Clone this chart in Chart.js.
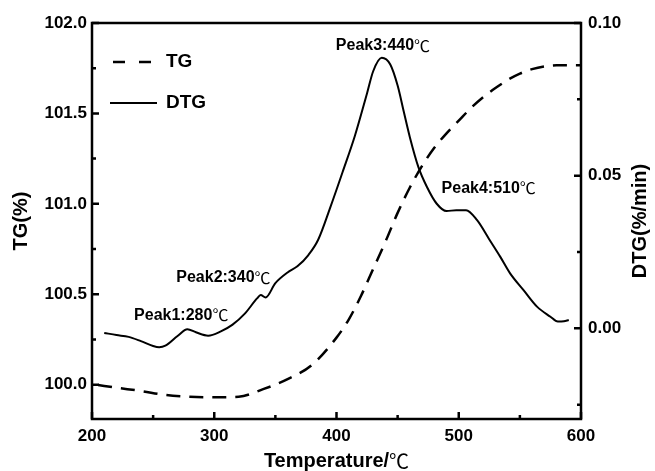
<!DOCTYPE html>
<html>
<head>
<meta charset="utf-8">
<script src="https://cdn.jsdelivr.net/npm/chart.js@4.4.0/dist/chart.umd.min.js"></script>
<style>
  html, body { margin: 0; padding: 0; background: #fff; }
</style>
</head>
<body>
<canvas id="c" width="655" height="471"></canvas>
<script>
// TG curve (left axis, %)
const tgTemp = [205, 220, 240, 260, 280, 300, 320, 340, 360, 380, 400, 410, 420, 430, 440, 450, 460, 470, 480, 490, 500, 510, 520, 530, 540, 550, 560, 570, 580, 590, 600];
const tgValues = [99.998, 99.983, 99.965, 99.943, 99.933, 99.930, 99.933, 99.975, 100.03, 100.11, 100.26, 100.36, 100.49, 100.64, 100.79, 100.95, 101.09, 101.21, 101.31, 101.39, 101.46, 101.53, 101.59, 101.64, 101.685, 101.72, 101.745, 101.76, 101.766, 101.766, 101.766];

// DTG curve (right axis, %/min)
const dtgTemp = [210, 220, 230, 240, 250, 255, 260, 270, 278, 285, 295, 305, 315, 325, 335, 338, 342, 350, 360, 368, 377, 385, 395, 405, 415, 425, 430, 437, 444, 450, 455, 460, 467, 474, 482, 490, 498, 506, 515, 525, 534, 542, 553, 564, 575, 581, 586, 590];
const dtgValues = [-0.0015, -0.0022, -0.0028, -0.0042, -0.0058, -0.0062, -0.0057, -0.0025, -0.0003, -0.0013, -0.0024, -0.0011, 0.0012, 0.0048, 0.0098, 0.0109, 0.0101, 0.0148, 0.0183, 0.0203, 0.0240, 0.0290, 0.0397, 0.0512, 0.0630, 0.0770, 0.0842, 0.0886, 0.0864, 0.0795, 0.0710, 0.0626, 0.0528, 0.0463, 0.0408, 0.0384, 0.0387, 0.0387, 0.0354, 0.0291, 0.0234, 0.0180, 0.0125, 0.0071, 0.0038, 0.0022, 0.0023, 0.0027];

// ticks
const xMajor = [200, 300, 400, 500, 600];
const xMinor = [250, 350, 450, 550];
const tgMajor = [100.0, 100.5, 101.0, 101.5, 102.0];
const tgMinor = [100.25, 100.75, 101.25, 101.75];
const dtgMajor = [0.00, 0.05, 0.10];
const dtgMinor = [-0.025, 0.025, 0.075];

// peak annotations (placed on the DTG axis)
const peakLabels = ['Peak1:280', 'Peak2:340', 'Peak3:440', 'Peak4:510'];
const peakT = [273, 307.5, 438, 524.5];
const peakY = [0.0043, 0.0165, 0.0926, 0.0459];

const FONT = '"Liberation Sans", Arial, sans-serif';
const DEG = '"Noto Sans CJK SC", "DejaVu Sans", sans-serif';

function fixTicks(list) {
  return scale => { scale.ticks = list.map(v => ({ value: v })); };
}

// bold text followed by a thin ℃, centred on (cx, cy)
function withDeg(ctx, text, cx, cy, size) {
  const bold = 'bold ' + size + 'px ' + FONT;
  const thin = size + 'px ' + DEG;
  ctx.font = bold;
  const w1 = ctx.measureText(text).width;
  ctx.font = thin;
  const w2 = ctx.measureText('℃').width;
  const x0 = cx - (w1 + w2) / 2;
  ctx.textAlign = 'left';
  ctx.font = bold;
  ctx.fillText(text, x0, cy);
  ctx.font = thin;
  ctx.fillText('℃', x0 + w1, cy);
}

const decor = {
  id: 'decor',
  afterDatasetsDraw(chart) {
    const { ctx, chartArea: a, scales } = chart;
    const x = scales.x, yl = scales.y, yr = scales.y2;
    ctx.save();
    ctx.strokeStyle = '#000';
    ctx.fillStyle = '#000';
    ctx.setLineDash([]);

    // frame
    ctx.lineWidth = 2.5;
    ctx.strokeRect(a.left, a.top, a.right - a.left, a.bottom - a.top);

    // inward ticks
    ctx.lineWidth = 2.5;
    ctx.beginPath();
    const xt = (v, len) => { const p = x.getPixelForValue(v); ctx.moveTo(p, a.bottom); ctx.lineTo(p, a.bottom - len); };
    const lt = (v, len) => { const p = yl.getPixelForValue(v); ctx.moveTo(a.left, p); ctx.lineTo(a.left + len, p); };
    const rt = (v, len) => { const p = yr.getPixelForValue(v); ctx.moveTo(a.right, p); ctx.lineTo(a.right - len, p); };
    xMajor.forEach(v => xt(v, 7));
    xMinor.forEach(v => xt(v, 4));
    tgMajor.forEach(v => lt(v, 7));
    tgMinor.forEach(v => lt(v, 4));
    dtgMajor.forEach(v => rt(v, 7));
    dtgMinor.forEach(v => rt(v, 4));
    ctx.stroke();

    // axis titles
    ctx.textBaseline = 'middle';
    const midY = (a.top + a.bottom) / 2;
    withDeg(ctx, 'Temperature/', (a.left + a.right) / 2, 461, 20);
    ctx.font = 'bold 20px ' + FONT;
    ctx.textAlign = 'center';
    ctx.save();
    ctx.translate(21, midY);
    ctx.rotate(-Math.PI / 2);
    ctx.fillText('TG(%)', 0, 0);
    ctx.restore();
    ctx.save();
    ctx.translate(640, midY);
    ctx.rotate(-Math.PI / 2);
    ctx.fillText('DTG(%/min)', 0, 0);
    ctx.restore();

    // peak labels
    peakLabels.forEach((t, i) => {
      withDeg(ctx, t, x.getPixelForValue(peakT[i]), yr.getPixelForValue(peakY[i]), 16);
    });

    // legend
    ctx.font = 'bold 19px ' + FONT;
    ctx.textAlign = 'left';
    ctx.lineWidth = 2.5;
    ctx.setLineDash([12, 14]);
    ctx.beginPath();
    ctx.moveTo(a.left + 21, a.top + 39);
    ctx.lineTo(a.left + 60, a.top + 39);
    ctx.stroke();
    ctx.fillText('TG', a.left + 74, a.top + 39);
    ctx.setLineDash([]);
    ctx.lineWidth = 2;
    ctx.beginPath();
    ctx.moveTo(a.left + 18, a.top + 80);
    ctx.lineTo(a.left + 65, a.top + 80);
    ctx.stroke();
    ctx.fillText('DTG', a.left + 74, a.top + 80);
    ctx.restore();
  }
};

const tickFont = { family: FONT, size: 17, weight: 'bold' };

new Chart(document.getElementById('c'), {
  type: 'line',
  data: {
    datasets: [{
      label: 'TG',
      data: tgTemp.map((t, i) => ({ x: t, y: tgValues[i] })),
      yAxisID: 'y',
      borderColor: '#000',
      borderWidth: 2.5,
      borderDash: [14, 9],
      pointRadius: 0,
      cubicInterpolationMode: 'monotone',
      fill: false
    }, {
      label: 'DTG',
      data: dtgTemp.map((t, i) => ({ x: t, y: dtgValues[i] })),
      yAxisID: 'y2',
      borderColor: '#000',
      borderWidth: 2,
      pointRadius: 0,
      cubicInterpolationMode: 'monotone',
      fill: false
    }]
  },
  options: {
    responsive: false,
    animation: false,
    devicePixelRatio: 1,
    layout: { padding: { top: 23, left: 0, right: 0, bottom: 0 } },
    plugins: { legend: { display: false }, tooltip: { enabled: false } },
    scales: {
      x: {
        type: 'linear', min: 200, max: 600,
        afterBuildTicks: fixTicks(xMajor),
        afterFit: s => { s.height = 52; },
        grid: { display: false, drawTicks: false },
        border: { display: false },
        ticks: { font: tickFont, color: '#000', padding: 7, maxRotation: 0 }
      },
      y: {
        type: 'linear', position: 'left', min: 99.81, max: 102.0,
        afterBuildTicks: fixTicks(tgMajor),
        afterFit: s => { s.width = 92; },
        grid: { display: false, drawTicks: false },
        border: { display: false },
        ticks: { font: tickFont, color: '#000', padding: 5, callback: v => v.toFixed(1) }
      },
      y2: {
        type: 'linear', position: 'right', min: -0.0297, max: 0.10,
        afterBuildTicks: fixTicks(dtgMajor),
        afterFit: s => { s.width = 74; },
        grid: { display: false, drawTicks: false },
        border: { display: false },
        ticks: { font: tickFont, color: '#000', padding: 7, callback: v => v.toFixed(2) }
      }
    }
  },
  plugins: [decor]
});
</script>
</body>
</html>
